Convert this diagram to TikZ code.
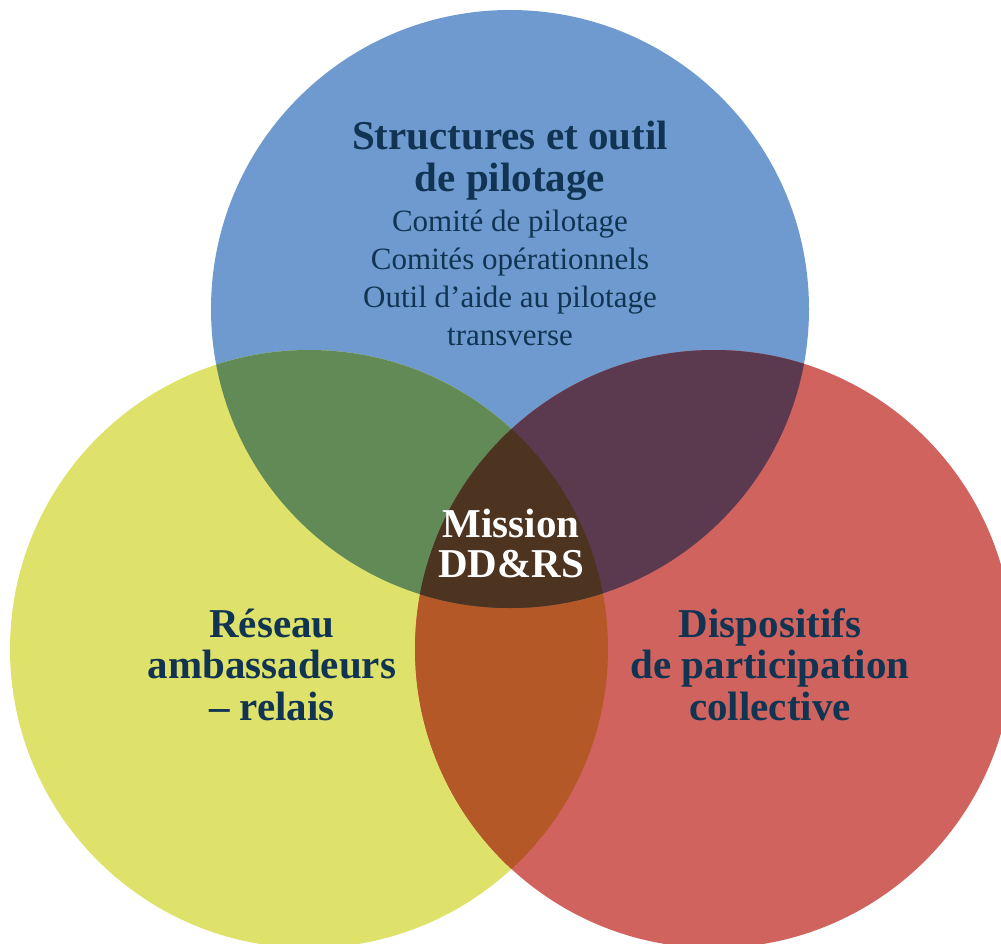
\documentclass[tikz,border=0pt]{standalone}
\usepackage{fontspec}
\setmainfont{Liberation Serif}
\definecolor{cBlue}{RGB}{110,154,208}
\definecolor{cYellow}{RGB}{223,226,106}
\definecolor{cRed}{RGB}{208,99,94}
\definecolor{cGreen}{RGB}{97,138,87}
\definecolor{cPurple}{RGB}{91,57,78}
\definecolor{cOrange}{RGB}{180,88,40}
\definecolor{cCenter}{RGB}{76,52,32}
\definecolor{cText}{RGB}{17,52,82}
\tikzset{
  title/.style={anchor=base, text=cText, font=\fontsize{41}{42}\selectfont\bfseries, inner sep=0pt},
  sub/.style={anchor=base, text=cText, font=\fontsize{31}{38}\selectfont, inner sep=0pt},
  mission/.style={anchor=base, text=white, font=\fontsize{41}{42}\selectfont\bfseries, inner sep=0pt}
}
\begin{document}
\begin{tikzpicture}[x=1pt,y=-1pt]
\useasboundingbox (0,0) rectangle (1001,944);
\clip (0,0) rectangle (1001,944);
\coordinate (B) at (510,309);
\coordinate (Y) at (309,649);
\coordinate (R) at (714,649);
\def\rr{299pt}
% base circles
\fill[cBlue] (B) circle[radius=\rr];
\fill[cYellow] (Y) circle[radius=\rr];
\fill[cRed] (R) circle[radius=\rr];
% yellow & red
\begin{scope}
  \clip (Y) circle[radius=\rr];
  \fill[cOrange] (R) circle[radius=\rr];
\end{scope}
% overlaps with blue
\begin{scope}
  \clip (B) circle[radius=\rr];
  \fill[cGreen] (Y) circle[radius=\rr];
  \fill[cPurple] (R) circle[radius=\rr];
  \clip (Y) circle[radius=\rr];
  \fill[cCenter] (R) circle[radius=\rr];
\end{scope}
% texts
\node[title] (t1) at (510,150) {Structures et outil};
\node[title] (t2) at (510,192) {de pilotage};
\node[sub] (s1) at (510,231) {Comité de pilotage};
\node[sub] (s2) at (510,269) {Comités opérationnels};
\node[sub] (s3) at (510,307) {Outil d’aide au pilotage};
\node[sub] (s4) at (510,345) {transverse};
\node[mission] (m1) at (511,537) {Mission};
\node[mission] (m2) at (511,577) {DD\&RS};
\node[title] (r1) at (272,637) {Réseau};
\node[title] (r2) at (272,678) {ambassadeurs};
\node[title] (r3) at (272,720) {– relais};
\node[title] (d1) at (770,637) {Dispositifs};
\node[title] (d2) at (770,678) {de participation};
\node[title] (d3) at (770,720) {collective};
\end{tikzpicture}
\end{document}
